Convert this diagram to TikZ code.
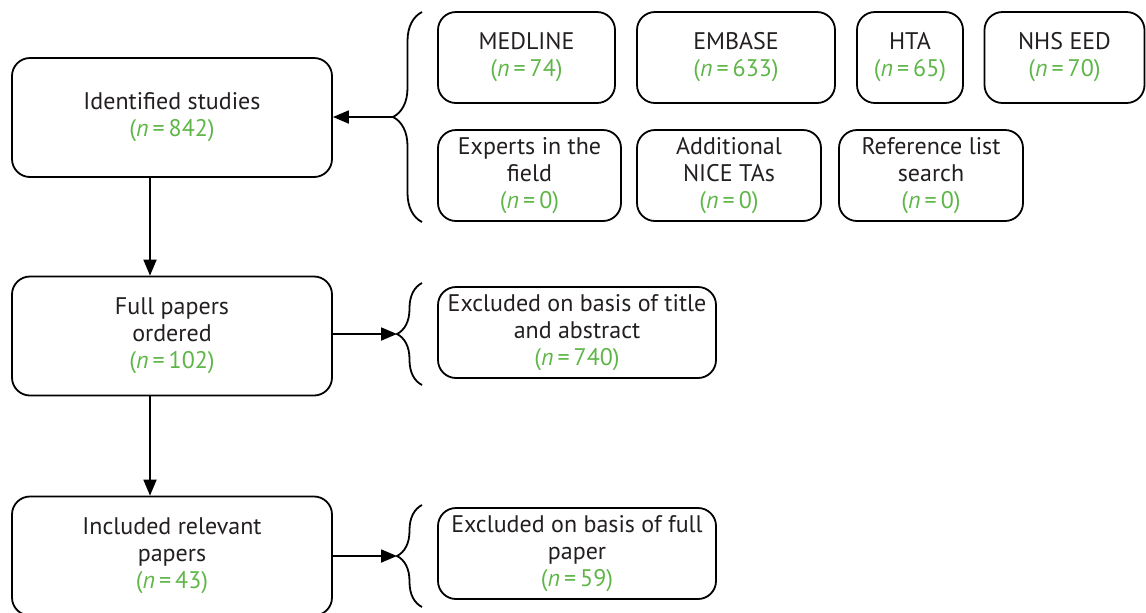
\documentclass[tikz,border=0pt]{standalone}
\usepackage{fontspec}
\setmainfont{PT Sans}
\usetikzlibrary{arrows.meta,decorations.pathreplacing}
\definecolor{nGreen}{RGB}{95,182,72}
\definecolor{inkGrey}{RGB}{35,31,32}
\newcommand{\nval}[1]{\textcolor{nGreen}{(\textit{n}\,=\,#1)}}

\begin{document}
\begin{tikzpicture}[x=0.5pt,y=-0.5pt,
    font=\fontsize{12}{13.5}\selectfont,text=inkGrey,
    box/.style={draw,line width=0.9pt,rounded corners=9pt,align=center,inner sep=0pt},
    mainbox/.style={box,minimum width=160pt,minimum height=59.5pt},
    srcbox/.style={box,minimum height=45.5pt},
    arr/.style={line width=0.9pt,-{Triangle[length=8pt,width=6.5pt]}},
    brace/.style={line width=0.9pt,decorate,decoration={brace,amplitude=#1}}]
    \useasboundingbox (0,0) rectangle (1146,612);
    % main column
    \node[mainbox] (ident) at (172,117.5) {Identified studies\\\nval{842}};
    \node[mainbox] (full) at (172,336) {Full papers\\ordered\\\nval{102}};
    \node[mainbox] (incl) at (172,556) {Included relevant\\papers\\\nval{43}};
    % sources
    \node[srcbox,minimum width=88.5pt] (medline) at (526.5,57.5) {MEDLINE\\\nval{74}};
    \node[srcbox,minimum width=99pt] (embase) at (736,57.5) {EMBASE\\\nval{633}};
    \node[srcbox,minimum width=53pt] (hta) at (910,57.5) {HTA\\\nval{65}};
    \node[srcbox,minimum width=80pt] (nhseed) at (1064.5,57.5) {NHS EED\\\nval{70}};
    \node[srcbox,minimum width=91.5pt] (experts) at (529.5,175.5) {Experts in the\\field\\\nval{0}};
    \node[srcbox,minimum width=92pt] (nice) at (729,175.5) {Additional\\NICE TAs\\\nval{0}};
    \node[srcbox,minimum width=92pt] (reflist) at (931,175.5) {Reference list\\search\\\nval{0}};
    % exclusions
    \node[srcbox,minimum width=139pt] (exclA) at (577,332.5) {Excluded on basis of title\\and abstract\\\nval{740}};
    \node[srcbox,minimum width=139pt] (exclB) at (577,553.5) {Excluded on basis of full\\paper\\\nval{59}};
    % braces
    \draw[brace=14.5pt] (422,222) -- (422,12);
    \draw[brace=12.5pt] (422,385) -- (422,283);
    \draw[brace=12.5pt] (422,607) -- (422,505);
    \coordinate (tipA) at (393,117);
    \coordinate (tipB) at (397,334);
    \coordinate (tipC) at (397,556);
    % arrows
    \draw[arr] (tipA) -- (ident.east |- tipA);
    \draw[arr] (full.east |- tipB) -- (tipB);
    \draw[arr] (incl.east |- tipC) -- (tipC);
    \draw[arr] ([xshift=-11pt]ident.south) -- ([xshift=-11pt]full.north);
    \draw[arr] ([xshift=-11pt]full.south) -- ([xshift=-11pt]incl.north);
\end{tikzpicture}
\end{document}
